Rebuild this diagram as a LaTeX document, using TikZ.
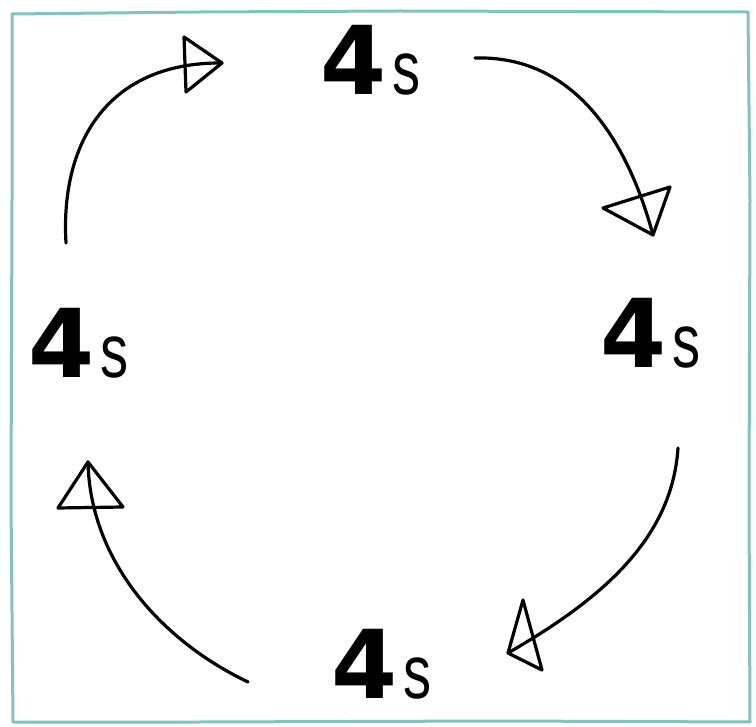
\documentclass[tikz,border=0pt]{standalone}
\usepackage{fontspec}
\usepackage{graphicx}
\newfontfamily\fourfont{DejaVu Sans}[BoldFont={DejaVu Sans Bold}]
\newfontfamily\esfont{Liberation Sans}
\definecolor{framecol}{RGB}{128,196,190}
\tikzset{
  lbl/.style={anchor=base west, inner sep=0pt, font=\fourfont},
  conn/.style={line width=3.2pt, line cap=round, black},
  tri/.style={line width=3.2pt, line join=round, black},
}
\newcommand{\fours}{{\fontsize{95}{95}\selectfont\bfseries 4}\hspace{6pt}\scalebox{0.85}[1.15]{\esfont\fontsize{66}{66}\selectfont s}}
\begin{document}
\begin{tikzpicture}[x=1pt, y=-1pt]
\useasboundingbox (0,0) rectangle (756,727);
\fill[white] (0,0) rectangle (756,727);
\draw[framecol, line width=3pt, line join=round]
  (12,14) -- (200,12) -- (400,11) -- (748,12) -- (750,200) -- (749,500) -- (750,722)
  -- (500,721) -- (200,722) -- (13,722) -- (11,500) -- (12,200) -- cycle;

\node[lbl] (top) at (320,95) {\fours};
\node[lbl] (left) at (28,378) {\fours};
\node[lbl] (right) at (600,368) {\fours};
\node[lbl] (bottom) at (331,698) {\fours};

\coordinate (a1s) at (66,243);  \coordinate (a1e) at (222,63);
\coordinate (a2s) at (475,58);  \coordinate (a2e) at (653,235);
\coordinate (a3s) at (678,448); \coordinate (a3e) at (508,653);
\coordinate (a4s) at (248,682); \coordinate (a4e) at (88,462);

\draw[conn] (a1s) .. controls (60,140) and (110,62) .. (a1e);
\draw[tri] (a1e) -- (184,37) -- (186,92) -- cycle;
\draw[conn] (a2s) .. controls (580,55) and (630,150) .. (a2e);
\draw[tri] (a2e) -- (603,208) -- (670,187) -- cycle;
\draw[conn] (a3s) .. controls (672,540) and (600,600) .. (a3e);
\draw[tri] (a3e) -- (523,600) -- (542,670) -- cycle;
\draw[conn] (a4s) .. controls (160,640) and (90,560) .. (a4e);
\draw[tri] (a4e) -- (58,508) -- (123,507) -- cycle;
\end{tikzpicture}
\end{document}
